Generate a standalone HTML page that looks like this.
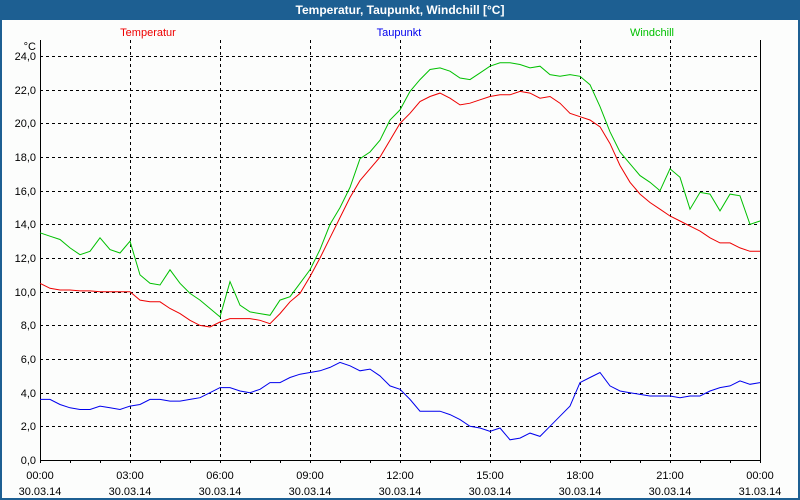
<!DOCTYPE html>
<html><head><meta charset="utf-8"><style>
body{margin:0;width:800px;height:500px;overflow:hidden;font-family:"Liberation Sans",sans-serif}
#wrap{position:relative;width:796px;height:478px;background:#fcfdfc;border:2px solid #1d5f92;border-top:20px solid #1d5f92}
#title{position:absolute;left:0;top:0;width:800px;height:20px;line-height:20px;text-align:center;color:#fff;font-weight:bold;font-size:12px}
svg{position:absolute;left:0;top:0}
</style></head><body>
<div id="wrap"></div>
<div id="title">Temperatur, Taupunkt, Windchill [°C]</div>
<svg id="c" width="800" height="500"></svg>
<script>
const yTicks=[0,2,4,6,8,10,12,14,16,18,20,22,24];
const xHours=[0,3,6,9,12,15,18,21,24];
const xTimeLabels=["00:00","03:00","06:00","09:00","12:00","15:00","18:00","21:00","00:00"];
const xDateLabels=["30.03.14","30.03.14","30.03.14","30.03.14","30.03.14","30.03.14","30.03.14","30.03.14","31.03.14"];
const temperatur=[10.5,10.2,10.1,10.1,10.05,10.05,10.0,10.0,10.0,10.0,9.5,9.4,9.4,9.0,8.7,8.3,8.0,7.9,8.2,8.4,8.4,8.4,8.3,8.1,8.7,9.4,9.9,10.9,12.0,13.2,14.4,15.6,16.6,17.3,18.0,19.0,20.0,20.6,21.3,21.6,21.8,21.5,21.1,21.2,21.4,21.6,21.7,21.7,21.9,21.8,21.5,21.6,21.2,20.6,20.4,20.2,19.8,18.8,17.5,16.5,15.8,15.3,14.9,14.5,14.2,13.9,13.6,13.2,12.9,12.9,12.6,12.4,12.4];
const windchill=[13.5,13.3,13.1,12.6,12.2,12.4,13.2,12.5,12.3,13.0,11.0,10.5,10.4,11.3,10.5,9.9,9.5,9.0,8.5,10.6,9.2,8.8,8.7,8.6,9.5,9.7,10.5,11.3,12.5,14.0,15.0,16.2,17.9,18.3,19.0,20.2,20.8,21.9,22.6,23.2,23.3,23.1,22.7,22.6,23.0,23.4,23.6,23.6,23.5,23.3,23.4,22.9,22.8,22.9,22.8,22.3,21.0,19.5,18.3,17.6,16.9,16.5,16.0,17.3,16.8,14.9,15.9,15.8,14.8,15.8,15.7,14.0,14.2];
const taupunkt=[3.6,3.6,3.3,3.1,3.0,3.0,3.2,3.1,3.0,3.2,3.3,3.6,3.6,3.5,3.5,3.6,3.7,4.0,4.3,4.3,4.1,4.0,4.2,4.6,4.6,4.9,5.1,5.2,5.3,5.5,5.8,5.6,5.3,5.4,5.0,4.4,4.2,3.6,2.9,2.9,2.9,2.7,2.4,2.0,1.9,1.7,1.9,1.2,1.3,1.6,1.4,2.0,2.6,3.2,4.6,4.9,5.2,4.4,4.1,4.0,3.9,3.8,3.8,3.8,3.7,3.8,3.8,4.1,4.3,4.4,4.7,4.5,4.6];
const stepHours=1/3;
const X0=40,X1=760,Y0=460,Ytop=40;
const xs=h=>X0+h*(X1-X0)/24;
const ys=v=>Y0-v*16.83;
const svg=document.getElementById('c');
const NS="http://www.w3.org/2000/svg";
function mk(t,a){const e=document.createElementNS(NS,t);for(const k in a)e.setAttribute(k,a[k]);svg.appendChild(e);return e;}
yTicks.forEach(v=>{
 const l=mk('line',{x1:X0,x2:X1,y1:Math.round(ys(v))+0.5,y2:Math.round(ys(v))+0.5,stroke:'#000','stroke-dasharray':'3,3'});
 
 
 const t=mk('text',{x:36,y:Math.round(ys(v))+4,'text-anchor':'end','font-size':'11px',fill:'#000'});
 t.textContent=v.toFixed(1).replace('.',',');
 
 
});
xHours.forEach((h,i)=>{
 const x=Math.round(xs(h))+0.5;
 if(h>0&&h<24){const l=mk('line',{x1:x,x2:x,y1:Ytop,y2:Y0,stroke:'#000','stroke-dasharray':'3,3'});
 
 }
 const t=mk('text',{x:xs(h),y:479,'text-anchor':'middle','font-size':'11px',fill:'#000'});
 t.textContent=xTimeLabels[i];
 
 
 const d=mk('text',{x:xs(h),y:495,'text-anchor':'middle','font-size':'11px',fill:'#000'});
 d.textContent=xDateLabels[i];
 
 
});
for(let h=0;h<=24;h++){const x=Math.round(xs(h))+0.5;const l=mk('line',{x1:x,x2:x,y1:Y0,y2:Y0+3,stroke:'#000'});
 
 }
const ax=mk('path',{d:`M${X0+0.5},${Ytop} V${Y0+0.5} H${X1+0.5} V${Ytop}`,fill:'none',stroke:'#000'});


const u=mk('text',{x:36,y:50,'text-anchor':'end','font-size':'11px',fill:'#000'});u.textContent='°C';


function series(arr,col,name){
 const p=mk('polyline',{points:arr.map((v,i)=>xs(i*stepHours).toFixed(1)+','+ys(v).toFixed(1)).join(' '),fill:'none',stroke:col,'stroke-width':1});
 
 
}
series(taupunkt,'#0000ee','taupunkt-line');
series(temperatur,'#ee0000','temperatur-line');
series(windchill,'#00c000','windchill-line');
[['Temperatur','#ee0000',148],['Taupunkt','#0000ee',399],['Windchill','#00c000',652]].forEach(a=>{
 const t=mk('text',{x:a[2],y:36,'text-anchor':'middle','font-size':'11px',fill:a[1]});t.textContent=a[0];
 
 
});
</script>
</body></html>
